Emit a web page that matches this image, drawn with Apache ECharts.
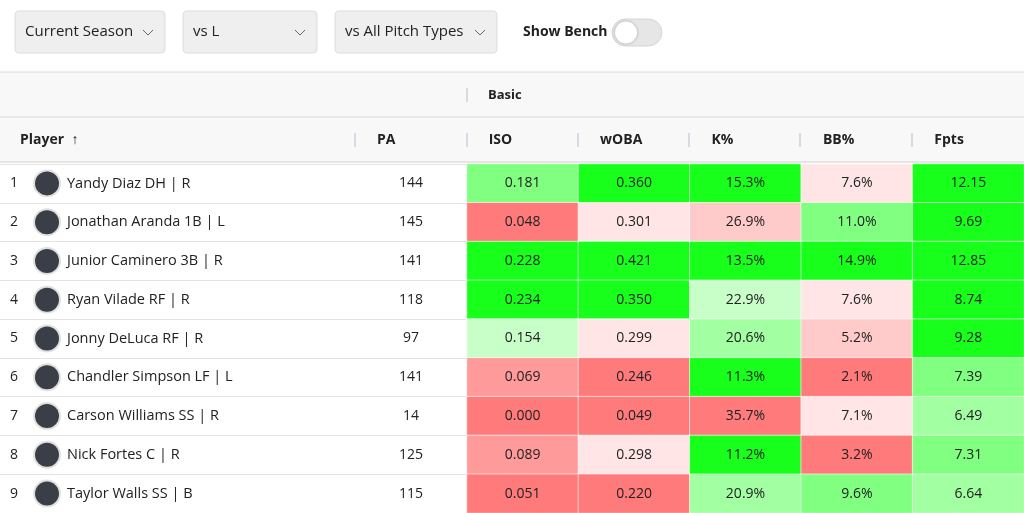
<!DOCTYPE html>
<html><head><meta charset="utf-8">
<script src="https://cdn.jsdelivr.net/npm/echarts@6/dist/echarts.min.js"></script>
<style>html,body{margin:0;padding:0;background:#fff}#c{width:1024px;height:513px}</style>
</head><body><div id="c"></div>
<script>
var players = ['Yandy Diaz DH | R','Jonathan Aranda 1B | L','Junior Caminero 3B | R','Ryan Vilade RF | R','Jonny DeLuca RF | R','Chandler Simpson LF | L','Carson Williams SS | R','Nick Fortes C | R','Taylor Walls SS | B'];
var pa = [144,145,141,118,97,141,14,125,115];
var statCols = ['ISO','wOBA','K%','BB%','Fpts'];
var iso  = ['0.181','0.048','0.228','0.234','0.154','0.069','0.000','0.089','0.051'];
var woba = ['0.360','0.301','0.421','0.350','0.299','0.246','0.049','0.298','0.220'];
var kpct = ['15.3%','26.9%','13.5%','22.9%','20.6%','11.3%','35.7%','11.2%','20.9%'];
var bbpct= ['7.6%','11.0%','14.9%','7.6%','5.2%','2.1%','7.1%','3.2%','9.6%'];
var fpts = ['12.15','9.69','12.85','8.74','9.28','7.39','6.49','7.31','6.64'];
// shade: 4 strong green ... 1 light green, -1 light red ... -4 strong red
var shIso  = [3,-4,4,4,1,-3,-4,-3,-4];
var shWoba = [4,-1,4,4,-1,-4,-4,-1,-4];
var shK    = [4,-2,4,1,2,4,-4,4,2];
var shBB   = [-1,3,4,-1,-2,-4,-1,-4,3];
var shF    = [4,4,4,4,4,3,2,3,2];

var vals=[iso,woba,kpct,bbpct,fpts], shades=[shIso,shWoba,shK,shBB,shF];
var cells=[];
for(var c=0;c<5;c++)for(var r=0;r<9;r++)cells.push([c,r,shades[c][r],vals[c][r]]);
var paCells=pa.map(function(v,i){return [0,i,v];});

var font='"Open Sans","Noto Sans",sans-serif';
var chart=echarts.init(document.getElementById('c'));
function dd(x,w,t){return [
 {type:'rect',shape:{x:x,y:11,width:w,height:42,r:4},style:{fill:'#efefef',stroke:'#dcdcdc'}},
 {type:'text',style:{x:x+10,y:32,text:t,font:'15px '+font,fill:'#222',verticalAlign:'middle'}},
 {type:'polyline',shape:{points:[[x+w-22,30],[x+w-17,35],[x+w-12,30]]},style:{stroke:'#666',lineWidth:1,fill:null}}];}
var g=[].concat(
 {type:'rect',shape:{x:0,y:72,width:1024,height:90},style:{fill:'#f8f8f8'}},
 {type:'line',shape:{x1:0,y1:72,x2:1024,y2:72},style:{stroke:'#d8d8d8'}},
 {type:'line',shape:{x1:0,y1:117,x2:1024,y2:117},style:{stroke:'#d8d8d8'}},
 {type:'line',shape:{x1:0,y1:162,x2:1024,y2:162},style:{stroke:'#d0d0d0'}},
 dd(15,150,'Current Season'),dd(183,134,'vs L'),dd(335,162,'vs All Pitch Types'),
 {type:'text',style:{x:523,y:32,text:'Show Bench',font:'bold 14px '+font,fill:'#222',verticalAlign:'middle'}},
 {type:'rect',shape:{x:612,y:19,width:50,height:27,r:13.5},style:{fill:'#e6e6e6',stroke:'#d5d5d5'}},
 {type:'circle',shape:{cx:626,cy:32.5,r:11},style:{fill:'#fff',shadowBlur:3,shadowColor:'rgba(0,0,0,0.3)'}},
 {type:'text',style:{x:488,y:95,text:'Basic',font:'bold 13px '+font,fill:'#222',verticalAlign:'middle'}},
 {type:'line',shape:{x1:467,y1:88,x2:467,y2:102},style:{stroke:'#d5dbe3',lineWidth:2}},
 {type:'text',style:{x:20,y:140,text:'Player  \u2191',font:'bold 14px '+font,fill:'#222',verticalAlign:'middle'}},
 {type:'text',style:{x:377,y:140,text:'PA',font:'bold 14px '+font,fill:'#222',verticalAlign:'middle'}}
);
[355,467,578,689,800,912].forEach(function(x){g.push({type:'line',shape:{x1:x,y1:133,x2:x,y2:147},style:{stroke:'#d5dbe3',lineWidth:2}});});

chart.setOption({
 animation:false,
 textStyle:{fontFamily:font},
 grid:[{left:0,right:0,top:164,height:351},{left:355,width:112,top:164,height:351},{left:467,right:0,top:164,height:351}],
 xAxis:[{gridIndex:0,type:'value',show:false,min:0,max:1},
        {gridIndex:1,type:'category',data:['PA'],show:false},
        {gridIndex:2,type:'category',data:statCols,position:'top',axisLine:{show:false},axisTick:{show:false},
         axisLabel:{margin:17,align:'center',formatter:function(v){return '{h|'+v+'}';},
           rich:{h:{width:68,align:'left',color:'#222',fontWeight:'bold',fontSize:14}}}}],
 yAxis:[{gridIndex:0,type:'category',inverse:true,data:players,axisLine:{show:false},axisTick:{show:false},
         splitLine:{show:true,lineStyle:{color:'#e3e3e3'}},
         axisLabel:{inside:true,margin:10,align:'left',color:'#222',fontSize:14,
           formatter:function(v,i){return '{rk|'+(i+1)+'}{av|}{nm|'+v+'}';},
           rich:{rk:{width:25,fontSize:14,color:'#222'},
                 av:{width:24,height:24,borderRadius:12,backgroundColor:'#3a3f47',borderColor:'#e0e0e0',borderWidth:2},
                 nm:{padding:[0,0,0,8],fontSize:14.5,color:'#222'}}}},
        {gridIndex:1,type:'category',inverse:true,data:players,show:false},
        {gridIndex:2,type:'category',inverse:true,data:players,show:false}],
 visualMap:{show:false,type:'piecewise',dimension:2,seriesIndex:1,pieces:[
   {value:4,color:'#18ff1c'},{value:3,color:'#80ff80'},{value:2,color:'#a2ffa2'},{value:1,color:'#c8ffc8'},
   {value:-1,color:'#ffe5e5'},{value:-2,color:'#ffcaca'},{value:-3,color:'#ff9a9a'},{value:-4,color:'#ff7a7a'}]},
 series:[
  {type:'heatmap',xAxisIndex:1,yAxisIndex:1,data:paCells,itemStyle:{color:'rgba(0,0,0,0)'},
   label:{show:true,color:'#222',fontSize:14,formatter:function(p){return p.data[2];}}},
  {type:'heatmap',xAxisIndex:2,yAxisIndex:2,data:cells,itemStyle:{borderColor:'rgba(255,255,255,0.6)',borderWidth:1},
   label:{show:true,color:'#222',fontSize:14,formatter:function(p){return p.data[3];}}}
 ],
 graphic:g
});
</script></body></html>
